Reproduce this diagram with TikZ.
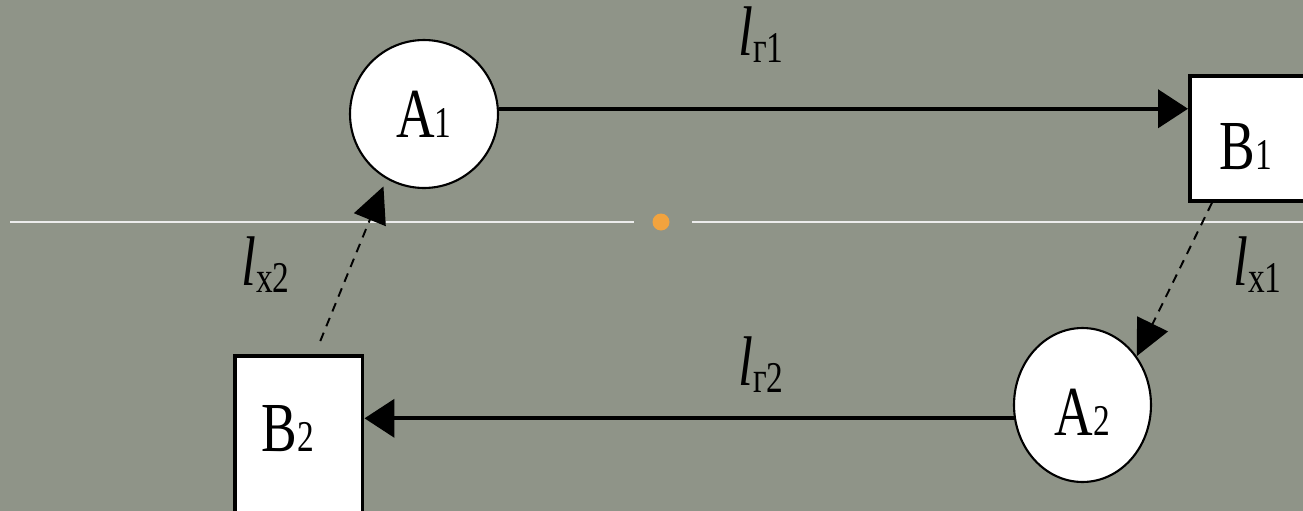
\documentclass[tikz,border=0pt]{standalone}
\usepackage{fontspec}
\setmainfont{Liberation Serif}
\usepackage{graphicx}
\usetikzlibrary{arrows.meta,shapes.geometric}

\definecolor{bgcol}{RGB}{143,148,136}
\definecolor{dotcol}{RGB}{242,163,62}

\newcommand{\sq}[1]{\scalebox{0.76}[1]{#1}}
\newcommand{\idx}[1]{{\fontsize{25}{26}\selectfont #1}}

\tikzset{
  circnode/.style={circle, draw, fill=white, line width=1.2pt, inner sep=0pt},
  ovalnode/.style={ellipse, draw, fill=white, line width=1.2pt, inner sep=0pt},
  boxnode/.style={rectangle, draw, fill=white, line width=2pt, align=left, inner ysep=0pt},
  nametext/.style={font=\fontsize{40}{48}\selectfont},
  lbl/.style={font=\fontsize{40}{44}\selectfont, anchor=base west, inner sep=0pt},
  work/.style={line width=2.4pt, -{Triangle[length=0.6cm,width=0.76cm]}},
  idle/.style={line width=1.1pt, dash pattern=on 0.18cm off 0.14cm, -{Triangle[length=0.72cm,width=0.68cm]}},
}

\begin{document}
\begin{tikzpicture}[x=0.02cm, y=-0.02cm]
\useasboundingbox (0,0) rectangle (1303,511);
\clip (0,0) rectangle (1303,511);
\fill[bgcol] (0,0) rectangle (1303,511);

% divider with dot
\draw[white!85!gray, line width=1.2pt] (10,222) -- (634,222);
\draw[white!85!gray, line width=1.2pt] (692,222) -- (1303,222);
\fill[dotcol] (661,222) circle (0.17cm);

% points A and B
\node[circnode, nametext, minimum size=2.96cm] (A1) at (424,114) {\sq{A\idx{1}}};
\node[ovalnode, nametext, minimum width=2.74cm, minimum height=3.08cm, text height=1.2cm] (A2) at (1082.5,405) {\sq{A\idx{2}}};
\node[boxnode, nametext, anchor=west, minimum height=2.5cm, inner xsep=0.6cm, text width=2.6cm, text height=1.26cm, text depth=0pt] (B1) at (1188,138.5) {\sq{B\idx{1}}};
\node[boxnode, nametext, anchor=north west, minimum height=4cm, inner xsep=0.54cm, text width=1.48cm, text height=0.94cm, text depth=1.1cm] (B2) at (233,354) {\sq{B\idx{2}}};

% loaded runs
\draw[work] (A1.4) -- (B1.west |- A1.4);
\draw[work] (A2.191) -- (B2.east |- A2.191);

% idle runs
\draw[idle] ([xshift=0.48cm]B1.south west) -- (A2.42);
\draw[idle, shorten <=0.28cm, shorten >=0.16cm] ([xshift=1.64cm]B2.north west) -- (A1.240);

% labels
\node[lbl] (lg1) at (738,55) {\sq{\textit{l}\raisebox{-0.14cm}{\idx{г1}}}};
\node[lbl] (lg2) at (738,385) {\sq{\textit{l}\raisebox{-0.14cm}{\idx{г2}}}};
\node[lbl] (lx1) at (1233,285) {\sq{\textit{l}\raisebox{-0.14cm}{\idx{х1}}}};
\node[lbl] (lx2) at (241,285) {\sq{\textit{l}\raisebox{-0.14cm}{\idx{х2}}}};
\end{tikzpicture}
\end{document}
